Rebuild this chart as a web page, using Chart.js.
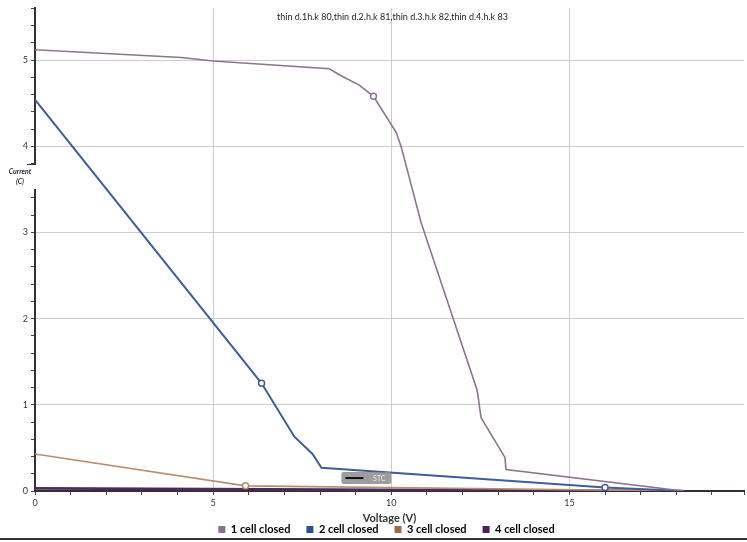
<!DOCTYPE html>
<html>
<head>
<meta charset="utf-8">
<title>I-V curves</title>
<script src="https://cdn.jsdelivr.net/npm/chart.js@4/dist/chart.umd.min.js"></script>
<style>
  html, body { margin: 0; padding: 0; background: #fff; }
  #wrap { width: 747px; height: 542px; position: relative; }
</style>
</head>
<body>
<div id="wrap"><canvas id="c"></canvas></div>
<script>
// Series labels
const seriesNames = ['1 cell closed', '2 cell closed', '3 cell closed', '4 cell closed'];

// 1 cell closed: voltage (V) / current
const volt1 = [0, 4.1, 5, 8.26, 8.54, 9.1, 9.5, 10.14, 10.28, 10.84, 12.41, 12.52, 13.19, 13.22, 18.2];
const curr1 = [5.12, 5.03, 4.99, 4.90, 4.83, 4.71, 4.58, 4.16, 3.99, 3.11, 1.17, 0.85, 0.39, 0.25, 0];
const marks1 = [6];

// 2 cell closed
const volt2 = [0, 6.36, 7.28, 7.79, 8.04, 16.0, 18.2];
const curr2 = [4.54, 1.25, 0.63, 0.43, 0.27, 0.04, 0];
const marks2 = [1, 5];

// 3 cell closed
const volt3 = [0, 5.91, 18.2];
const curr3 = [0.43, 0.06, 0];
const marks3 = [1];

// 4 cell closed
const volt4 = [0, 18.2];
const curr4 = [0.03, 0];
const marks4 = [];

// Axis tick values shown as labels
const xTickLabels = [0, 5, 10, 15];
const yTickLabels = [0, 1, 2, 3, 4, 5];

const chartTitle = 'thin d.1h.k 80,thin d.2.h.k 81,thin d.3.h.k 82,thin d.4.h.k 83';

const lineColors = ['#8d7390', '#3f5d97', '#b98d6c', '#4a2b5c'];
const boxColors = ['#8c6f8f', '#2e4f8c', '#9c6b4a', '#4a1f5e'];
const lineWidths = [1.6, 2, 1.6, 2.6];

function toPoints(vs, is) {
  return vs.map((v, k) => ({ x: v, y: is[k] }));
}

function makeSet(idx, vs, is, marks) {
  return {
    label: seriesNames[idx],
    data: toPoints(vs, is),
    borderColor: lineColors[idx],
    backgroundColor: boxColors[idx],
    borderWidth: lineWidths[idx],
    tension: 0,
    pointRadius: vs.map((_, k) => marks.includes(k) ? 3 : 0),
    pointBackgroundColor: '#ffffff',
    pointBorderColor: lineColors[idx],
    pointBorderWidth: 1.5,
    pointHoverRadius: 0
  };
}

const datasets = [
  makeSet(0, volt1, curr1, marks1),
  makeSet(1, volt2, curr2, marks2),
  makeSet(2, volt3, curr3, marks3),
  makeSet(3, volt4, curr4, marks4)
];

const isNear = (a, b) => Math.abs(a - b) < 1e-6;

// Text and decorations drawn around the plot
const extras = {
  id: 'extras',
  afterLayout(chart) {
    // place the legend row under the axis title
    const lg = chart.legend;
    if (lg) {
      const shift = 14;
      lg.left += shift; lg.right += shift;
      lg.top = 508; lg.bottom = 542;
      lg.height = lg.bottom - lg.top;
    }
  },
  afterDraw(chart) {
    const ctx = chart.ctx;
    const area = chart.chartArea;
    const xs = chart.scales.x, ys = chart.scales.y;
    ctx.save();

    // title inside the top of the plot
    ctx.font = '9px Lato, "Open Sans", sans-serif';
    ctx.fillStyle = '#222';
    ctx.textAlign = 'center';
    ctx.textBaseline = 'middle';
    ctx.fillText(chartTitle, (area.left + area.right) / 2 + 3, 17);

    // gap in the value axis holding its caption
    ctx.fillStyle = '#fff';
    ctx.fillRect(area.left - 5, 165, 9, 24);
    ctx.strokeStyle = '#333';
    ctx.lineWidth = 1;
    ctx.beginPath();
    ctx.moveTo(area.left - 8, 164.5);
    ctx.lineTo(area.left + 0.5, 164.5);
    ctx.stroke();
    ctx.font = 'italic bold 7px Lato, "Open Sans", sans-serif';
    ctx.fillStyle = '#2a2a3a';
    ctx.textAlign = 'center';
    ctx.fillText('Current', 20, 172);
    ctx.fillText('(C)', 20, 182);

    // STC key box
    const bx = xs.getPixelForValue(8.6), bw = xs.getPixelForValue(10.0) - bx;
    const by = ys.getPixelForValue(0.22), bh = 12;
    ctx.fillStyle = 'rgba(140,140,140,0.85)';
    ctx.beginPath();
    if (ctx.roundRect) ctx.roundRect(bx, by, bw, bh, 2); else ctx.rect(bx, by, bw, bh);
    ctx.fill();
    ctx.strokeStyle = '#111';
    ctx.lineWidth = 2;
    ctx.beginPath();
    ctx.moveTo(bx + 4, by + bh / 2);
    ctx.lineTo(bx + 22, by + bh / 2);
    ctx.stroke();
    ctx.font = '7px Lato, "Open Sans", sans-serif';
    ctx.fillStyle = '#e8e8e8';
    ctx.textAlign = 'center';
    ctx.fillText('STC', bx + bw - 12, by + bh / 2 + 0.5);

    // bottom rule
    ctx.fillStyle = '#333';
    ctx.fillRect(0, 538, chart.width, 2);
    ctx.restore();
  }
};

new Chart(document.getElementById('c'), {
  type: 'line',
  data: { datasets },
  plugins: [extras],
  options: {
    responsive: true,
    maintainAspectRatio: false,
    animation: false,
    events: [],
    layout: { padding: { top: 8, right: 2, left: 0, bottom: 0 } },
    plugins: {
      title: { display: false },
      tooltip: { enabled: false },
      legend: {
        display: true,
        position: 'bottom',
        maxHeight: 17,
        labels: {
          boxWidth: 7,
          boxHeight: 7,
          padding: 16,
          color: '#333',
          font: { family: 'Lato, "Open Sans", sans-serif', size: 11, weight: 'bold' },
          generateLabels(chart) {
            return chart.data.datasets.map((ds, k) => ({
              text: ds.label,
              fillStyle: boxColors[k],
              strokeStyle: boxColors[k],
              lineWidth: 0,
              hidden: false,
              datasetIndex: k
            }));
          }
        }
      }
    },
    scales: {
      x: {
        type: 'linear',
        min: 0,
        max: 19.9,
        afterFit(scale) { scale.height = 34; },
        border: { display: true, color: '#3a2a3a', width: 2 },
        grid: {
          color: c => (c.tick && c.tick.value > 0 && xTickLabels.some(v => isNear(v, c.tick.value))) ? '#cccccc' : 'rgba(0,0,0,0)',
          lineWidth: 1,
          tickColor: '#444',
          tickLength: 4,
          tickWidth: 1
        },
        ticks: {
          stepSize: 1,
          autoSkip: false,
          maxRotation: 0,
          padding: 3,
          color: '#333',
          font: { family: 'Lato, "Open Sans", sans-serif', size: 9 },
          callback: v => xTickLabels.some(t => isNear(t, v)) ? String(Math.round(v)) : ''
        },
        title: {
          display: true,
          text: 'Voltage (V)',
          color: '#333',
          padding: { top: 0, bottom: 0 },
          font: { family: 'Lato, "Open Sans", sans-serif', size: 11, weight: 'bold' }
        }
      },
      y: {
        type: 'linear',
        min: 0,
        max: 5.6,
        afterFit(scale) { scale.width = 35; },
        border: { display: true, color: '#333', width: 2 },
        grid: {
          color: c => (c.tick && c.tick.value > 0 && yTickLabels.some(v => isNear(v, c.tick.value))) ? '#cccccc' : 'rgba(0,0,0,0)',
          lineWidth: 1,
          tickColor: '#444',
          tickLength: 4,
          tickWidth: 1
        },
        ticks: {
          stepSize: 0.2,
          autoSkip: false,
          padding: 3,
          color: '#333',
          font: { family: 'Lato, "Open Sans", sans-serif', size: 9 },
          callback: v => yTickLabels.some(t => isNear(t, v)) ? String(Math.round(v)) : ''
        }
      }
    }
  }
});
</script>
</body>
</html>
